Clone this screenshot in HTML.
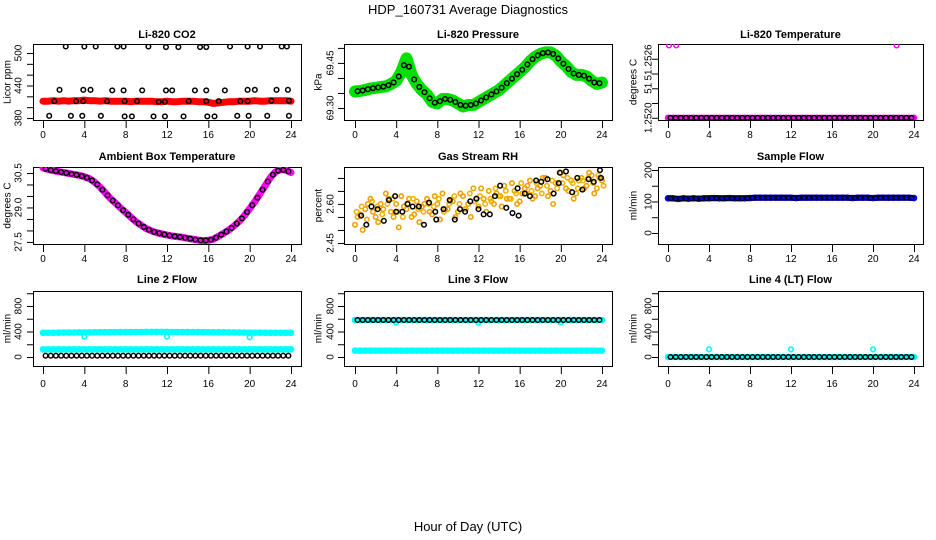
<!DOCTYPE html>
<html><head><meta charset="utf-8">
<style>
html,body{margin:0;padding:0;background:#fff;}
svg{display:block;font-family:"Liberation Sans",sans-serif;}
</style></head>
<body>
<svg id="chart" width="936" height="540" viewBox="0 0 936 540" xmlns="http://www.w3.org/2000/svg">
<text x="468" y="14" text-anchor="middle" font-size="13">HDP_160731  Average Diagnostics</text>
<text x="468" y="531" text-anchor="middle" font-size="13">Hour of Day (UTC)</text>
<g id="plots"></g>
</svg>
<script>
// ---- data (hour of day grid every 0.5 h) ----
const xTicks = [0,4,8,12,16,20,24];
const co2Red = [411,411,412,411,412,411,412,412,413,412,412,411,412,411,411,411,411,410,411,411,411,411,410,410,411,410,410,411,411,411,410,410,409,407,408,409,410,410,411,411,411,412,411,411,412,412,412,412,411];
const co2BlackT = [2.2,4.0,5.1,7.2,7.8,10.2,11.9,13.1,15.2,15.8,18.1,19.8,21.0,23.1,23.6, 1.6,3.9,4.6,6.7,7.8,9.6,11.9,12.5,14.7,15.8,17.6,19.8,20.5,22.6,23.7, 1.1,3.2,3.9,6.2,7.9,9.1,11.2,11.8,14.1,15.8,17.0,19.1,19.8,22.1,23.8, 0.6,2.7,3.8,5.6,7.9,8.6,10.7,11.8,13.6,15.9,16.6,18.8,19.9,21.7,23.8];
const co2BlackV = [512,512,512,512,512,512,511,511,511,511,512,512,512,512,512, 432,432,432,431,431,431,431,431,431,431,431,432,432,432,432, 411,411,411,411,411,411,410,410,411,411,411,411,411,412,412, 384,384,384,384,383,383,383,383,383,383,383,384,384,384,384];
const presGreen = [69.355,69.357,69.36,69.365,69.367,69.37,69.372,69.38,69.39,69.42,69.465,69.41,69.38,69.36,69.345,69.32,69.315,69.33,69.33,69.325,69.315,69.305,69.31,69.31,69.32,69.33,69.34,69.35,69.36,69.375,69.39,69.405,69.42,69.435,69.455,69.47,69.48,69.485,69.485,69.475,69.455,69.44,69.42,69.41,69.41,69.405,69.39,69.38,69.385];
const tempMag = [51.2520,51.2520,51.2520,51.2520,51.2520,51.2520,51.2520,51.2520,51.2520,51.2520,51.2520,51.2520,51.2520,51.2520,51.2520,51.2520,51.2520,51.2520,51.2520,51.2520,51.2520,51.2520,51.2520,51.2520,51.2520,51.2520,51.2520,51.2520,51.2520,51.2520,51.2520,51.2520,51.2520,51.2520,51.2520,51.2520,51.2520,51.2520,51.2520,51.2520,51.2520,51.2520,51.2520,51.2520,51.2520,51.2520,51.2520,51.2520,51.2520];
const tempOutT = [0.1,0.8,22.3];
const tempOutV = [51.25298,51.25298,51.25298];
const ambMag = [30.72,30.65,30.60,30.56,30.52,30.48,30.44,30.40,30.34,30.25,30.10,29.90,29.65,29.40,29.20,28.98,28.78,28.58,28.38,28.22,28.08,27.98,27.90,27.85,27.80,27.76,27.73,27.70,27.66,27.62,27.58,27.56,27.57,27.62,27.75,27.88,28.02,28.20,28.40,28.65,28.95,29.25,29.60,29.95,30.30,30.55,30.65,30.62,30.52];
const rhA = [2.52,2.56,2.58,2.62,2.55,2.60,2.64,2.57,2.60,2.63,2.58,2.55,2.61,2.59,2.62,2.56,2.60,2.64,2.58,2.61,2.57,2.63,2.60,2.66,2.59,2.62,2.65,2.60,2.63,2.67,2.62,2.65,2.61,2.66,2.69,2.63,2.67,2.70,2.65,2.68,2.72,2.66,2.69,2.64,2.70,2.67,2.71,2.66,2.69];
const rhB = [2.55,2.50,2.60,2.57,2.53,2.58,2.62,2.55,2.51,2.59,2.62,2.56,2.53,2.60,2.57,2.63,2.54,2.58,2.61,2.55,2.64,2.58,2.55,2.62,2.66,2.57,2.61,2.64,2.59,2.62,2.68,2.60,2.64,2.67,2.62,2.66,2.70,2.63,2.60,2.68,2.71,2.65,2.62,2.69,2.66,2.72,2.64,2.70];
const rhC = [2.57,2.59,2.54,2.61,2.59,2.56,2.60,2.62,2.57,2.55,2.60,2.62,2.58,2.57,2.60,2.59,2.62,2.57,2.60,2.63,2.60,2.58,2.64,2.61,2.63,2.60,2.62,2.66,2.63,2.65,2.62,2.64,2.68,2.64,2.65,2.68,2.64,2.67,2.69,2.66,2.68,2.70,2.68,2.66,2.69,2.70,2.68,2.71,2.67];
const rhBlackT = [0.6,1.1,1.6,2.2,2.8,3.3,3.9,4.0,4.6,5.1,5.6,6.2,6.7,7.2,7.8,7.9,8.6,9.2,9.7,10.2,10.7,11.2,11.8,12.0,12.5,13.1,13.6,14.1,14.7,15.3,15.8,15.9,16.5,17.0,17.6,18.1,18.7,19.3,19.8,19.9,20.5,21.1,21.6,22.1,22.7,23.2,23.8,23.9];
const rhBlackV = [2.555,2.52,2.59,2.58,2.535,2.615,2.63,2.57,2.57,2.6,2.59,2.59,2.52,2.605,2.57,2.54,2.58,2.615,2.54,2.58,2.57,2.61,2.62,2.58,2.56,2.56,2.63,2.67,2.585,2.565,2.66,2.555,2.64,2.63,2.69,2.685,2.695,2.64,2.68,2.72,2.725,2.645,2.70,2.655,2.695,2.685,2.73,2.70];
const sampleFlow = [110,110,108,110,109,110,109,110,110,111,110,110,111,110,110,110,111,112,112,112,112,112,112,112,112,111,112,112,112,112,112,112,112,112,112,112,111,112,112,112,111,112,112,112,112,112,112,112,111];
const line2Hi = [380,380,380,382,384,384,384,386,385,386,388,389,390,390,390,391,391,392,392,392,393,393,393,393,393,392,392,392,391,391,391,390,390,389,388,387,386,385,384,383,382,382,381,381,380,380,380,380,380];
const line2Lo = [120,120,120,120,120,120,120,120,120,120,120,120,120,120,120,120,120,120,120,120,120,120,120,120,120,120,120,120,120,120,120,120,120,120,120,120,120,120,120,120,120,120,120,120,120,120,120,120,120];
const line2Black = [20,20,20,20,20,20,20,20,20,20,20,20,20,20,20,20,20,20,20,20,20,20,20,20,20,20,20,20,20,20,20,20,20,20,20,20,20,20,20,20,20,20,20,20,20,20,20,20,20];
const line2OutT = [4,12,20];
const line2OutV = [320,320,310];
const line3Hi = [580,580,580,580,580,580,580,580,580,580,580,580,580,580,580,580,580,580,580,580,580,580,580,580,580,580,580,580,580,580,580,580,580,580,580,580,580,580,580,580,580,580,580,580,580,580,580,580,580];
const line3Lo = [100,100,100,100,100,100,100,100,100,100,100,100,100,100,100,100,100,100,100,100,100,100,100,100,100,100,100,100,100,100,100,100,100,100,100,100,100,100,100,100,100,100,100,100,100,100,100,100,100];
const line3Black = [580,580,580,580,580,580,580,580,580,580,580,580,580,580,580,580,580,580,580,580,580,580,580,580,580,580,580,580,580,580,580,580,580,580,580,580,580,580,580,580,580,580,580,580,580,580,580,580,580];
const line3OutT = [4,12,20];
const line3OutV = [540,540,540];
const line4Cyan = [0,0,0,0,0,0,0,0,0,0,0,0,0,0,0,0,0,0,0,0,0,0,0,0,0,0,0,0,0,0,0,0,0,0,0,0,0,0,0,0,0,0,0,0,0,0,0,0,0];
const line4OutT = [4,12,20];
const line4OutV = [120,120,120];

const NS = "http://www.w3.org/2000/svg";
const root = document.getElementById('plots');
function el(tag, attrs, parent){ const e=document.createElementNS(NS,tag); for(const k in attrs) e.setAttribute(k,attrs[k]); (parent||root).appendChild(e); return e; }
const grid = []; for(let i=0;i<=48;i++) grid.push(i*0.5);
const gridB = []; for(let i=0;i<48;i++) gridB.push(i*0.5+0.25);

const cols = [{bx0:33,bx1:301,a:43,b:291,lab:18,tit:7},{bx0:344,bx1:612,a:355,b:602,lab:330,tit:318},{bx0:658,bx1:923,a:668,b:914,lab:648,tit:633}];
const rows = [{by0:44,by1:120,title:38,xl:138},{by0:167,by1:244,title:160,xl:262},{by0:291,by1:366,title:283,xl:387}];

function panel(ci, ri, name, title, ytitle, yTop, yBot, yTickVals, yLabVals, yLabs){
  const c=cols[ci], r=rows[ri];
  const g = el('g',{});
  
  
  const X = t => c.a + t*(c.b-c.a)/24;
  const Y = v => r.by0 + (yTop - v)*(r.by1-r.by0)/(yTop-yBot);
  const t1 = el('text',{x:(c.bx0+c.bx1)/2,y:r.title,'text-anchor':'middle','font-size':11,'font-weight':'bold'},g);
  t1.textContent = title;
  
  
  const box = el('rect',{x:c.bx0+0.5,y:r.by0+0.5,width:c.bx1-c.bx0,height:r.by1-r.by0,fill:'none',stroke:'#000','stroke-width':1},g);
  
  
  const xa = el('g',{},g);
  
  
  xTicks.forEach(t=>{
    el('line',{x1:X(t)+0.5,x2:X(t)+0.5,y1:r.by1,y2:r.by1+8,stroke:'#000'},xa);
    const tx = el('text',{x:X(t),y:r.xl,'text-anchor':'middle','font-size':10},xa);
    tx.textContent = t;
    
    
  });
  const ya = el('g',{},g);
  
  
  const ax = c.bx0;
  yTickVals.forEach(v=>el('line',{x1:ax-6,x2:ax,y1:Y(v)+0.5,y2:Y(v)+0.5,stroke:'#000'},ya));
  yLabVals.forEach((v,i)=>{
    const ly=Y(v);
    const tx = el('text',{x:c.lab,y:ly,'text-anchor':'middle','font-size':10,transform:`rotate(-90 ${c.lab} ${ly})`,dy:'0.35em'},ya);
    tx.textContent = yLabs[i];
    
    
  });
  const ym=(r.by0+r.by1)/2;
  const yt = el('text',{x:c.tit,y:ym,'text-anchor':'middle','font-size':10,transform:`rotate(-90 ${c.tit} ${ym})`,dy:'0.35em'},g);
  yt.textContent = ytitle;
  
  
  const cid = 'clip-'+name;
  const cp = el('clipPath',{id:cid},g);
  el('rect',{x:c.bx0,y:r.by0,width:c.bx1-c.bx0,height:r.by1-r.by0},cp);
  const dg = el('g',{'clip-path':`url(#${cid})`},g);
  return {X,Y,g:dg};
}
function band(p, ts, vs, color, w, sname){
  const pts = ts.map((t,i)=>p.X(t).toFixed(1)+','+p.Y(vs[i]).toFixed(1)).join(' ');
  const pl = el('polyline',{points:pts,fill:'none',stroke:color,'stroke-width':w,'stroke-linejoin':'round','stroke-linecap':'round'},p.g);
  
  
  circles(p, ts, vs, color, 2.5, 1.6, sname+'-point');
}
function circles(p, ts, vs, color, rr, sw, sname){
  ts.forEach((t,i)=>{
    const c = el('circle',{cx:p.X(t),cy:p.Y(vs[i]),r:rr,fill:'none',stroke:color,'stroke-width':sw},p.g);
    
    
  });
}
const offIdx = []; for(let i=0;i<48;i++) offIdx.push(i);
function avg(arr){ return offIdx.map(i=>(arr[i]+arr[i+1])/2); }
const gridC = grid.map(t=>t+0.15);

let p = panel(0,0,'co2','Li-820 CO2','Licor ppm',516.6,376.3,[380,400,420,440,460,480,500],[380,440,500],['380','440','500']);
band(p, grid, co2Red, '#ff0000', 7, 'co2-red');
circles(p, co2BlackT, co2BlackV, '#000', 2.3, 1.5, 'co2-black-point');

p = panel(1,0,'pressure','Li-820 Pressure','kPa',69.513,69.26,[69.30,69.35,69.40,69.45,69.50],[69.30,69.45],['69.30','69.45']);
band(p, grid, presGreen, '#00e000', 12, 'pressure-green');
circles(p, gridB, avg(presGreen), '#000', 2.3, 1.5, 'pressure-black-point');

p = panel(2,0,'li820-temp','Li-820 Temperature','degrees C',51.2530,51.25197,[51.2520,51.2522,51.2524,51.2526,51.2528],[51.2520,51.2524,51.25275],['1.2520','51','51.2526']);
band(p, grid, tempMag, '#ff00ff', 5, 'li820-temp-magenta');
circles(p, tempOutT, tempOutV, '#ff00ff', 2.3, 1.5, 'li820-temp-outlier');
circles(p, gridB, avg(tempMag), '#000', 2.3, 1.5, 'li820-temp-black-point');

p = panel(0,1,'ambient','Ambient Box Temperature','degrees C',30.76,27.41,[27.5,28.0,28.5,29.0,29.5,30.0,30.5],[27.5,29.0,30.5],['27.5','29.0','30.5']);
band(p, grid, ambMag, '#ff00ff', 7, 'ambient-magenta');
circles(p, gridB, avg(ambMag), '#000', 2.3, 1.5, 'ambient-black-point');

p = panel(1,1,'rh','Gas Stream RH','percent',2.742,2.446,[2.45,2.50,2.55,2.60,2.65,2.70],[2.45,2.60],['2.45','2.60']);
circles(p, grid, rhA, '#f0a000', 2.2, 1.6, 'rh-orange-point');
circles(p, gridB, rhB, '#f0a000', 2.2, 1.6, 'rh-orange-point');
circles(p, gridC, rhC, '#f0b400', 2.2, 1.6, 'rh-orange-point');
circles(p, rhBlackT, rhBlackV, '#000', 2.3, 1.5, 'rh-black-point');

p = panel(2,1,'sample-flow','Sample Flow','ml/min',209.5,-35,[0,50,100,150,200],[0,100,200],['0','100','200']);
band(p, grid, sampleFlow, '#0000ff', 6, 'sample-flow-blue');
circles(p, gridB, avg(sampleFlow), '#000', 2.3, 1.5, 'sample-flow-black-point');

p = panel(0,2,'line2','Line 2 Flow','ml/min',1035,-141,[0,200,400,600,800,1000],[0,400,800],['0','400','800']);
band(p, grid, line2Hi, '#00ffff', 6, 'line2-cyan-high');
band(p, grid, line2Lo, '#00ffff', 6, 'line2-cyan-low');
circles(p, line2OutT, line2OutV, '#00ffff', 2.3, 1.6, 'line2-cyan-outlier');
circles(p, gridB, avg(line2Black), '#000', 2.3, 1.5, 'line2-black-point');

p = panel(1,2,'line3','Line 3 Flow','ml/min',1035,-141,[0,200,400,600,800,1000],[0,400,800],['0','400','800']);
band(p, grid, line3Hi, '#00ffff', 6, 'line3-cyan-high');
band(p, grid, line3Lo, '#00ffff', 6, 'line3-cyan-low');
circles(p, line3OutT, line3OutV, '#00ffff', 2.3, 1.6, 'line3-cyan-outlier');
circles(p, gridB, avg(line3Black), '#000', 2.3, 1.5, 'line3-black-point');

p = panel(2,2,'line4','Line 4 (LT) Flow','ml/min',1035,-141,[0,200,400,600,800,1000],[0,400,800],['0','400','800']);
band(p, grid, line4Cyan, '#00ffff', 5, 'line4-cyan');
circles(p, line4OutT, line4OutV, '#00ffff', 2.3, 1.6, 'line4-cyan-outlier');
circles(p, gridB, avg(line4Cyan), '#000', 2.3, 1.5, 'line4-black-point');
</script>
</body></html>
